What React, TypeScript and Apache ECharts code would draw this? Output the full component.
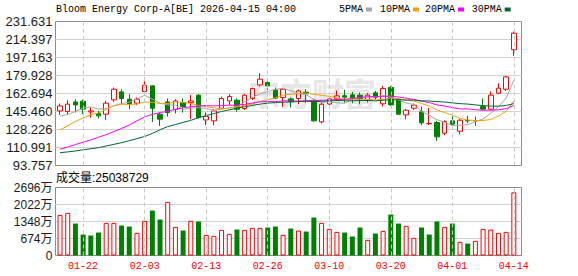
import React, { useEffect, useRef } from 'react';
import * as echarts from 'echarts';

const dates = [
  '01-16', '01-20', '01-21', '01-22', '01-23', '01-26', '01-27', '01-28', '01-29', '01-30',
  '02-02', '02-03', '02-04', '02-05', '02-06', '02-09', '02-10', '02-11', '02-12', '02-13',
  '02-17', '02-18', '02-19', '02-20', '02-23', '02-24', '02-25', '02-26', '02-27', '03-02',
  '03-03', '03-04', '03-05', '03-06', '03-09', '03-10', '03-11', '03-12', '03-13', '03-16',
  '03-17', '03-18', '03-19', '03-20', '03-23', '03-24', '03-25', '03-26', '03-27', '03-30',
  '03-31', '04-01', '04-02', '04-06', '04-07', '04-08', '04-09', '04-10', '04-13', '04-14',
];

const opens = [
  146.0, 145.5, 154.6, 155.3, 145.1, 143.5, 142.9, 156.6, 164.2, 157.2,
  153.4, 164.6, 170.0, 142.9, 154.6, 147.5, 154.1, 154.1, 161.1, 137.4,
  136.5, 148.6, 155.6, 156.3, 148.3, 157.9, 170.9, 173.2, 166.1, 158.9,
  157.5, 157.9, 164.0, 156.2, 135.5, 152.6, 157.5, 160.6, 161.4, 161.0,
  156.6, 163.3, 152.8, 168.4, 157.2, 142.2, 148.6, 145.1, 133.8, 134.9,
  124.7, 136.5, 126.6, 136.8, 136.5, 150.2, 147.7, 163.0, 166.8, 204.6,
];
const closes = [
  150.8, 152.5, 151.8, 147.7, 146.0, 141.3, 153.4, 166.8, 157.9, 152.5,
  157.2, 170.6, 148.6, 138.1, 144.5, 155.6, 150.2, 155.6, 139.7, 140.7,
  146.0, 157.9, 159.8, 147.7, 161.1, 167.5, 176.4, 170.0, 158.2, 166.8,
  155.0, 165.2, 162.3, 136.5, 152.4, 157.5, 160.4, 159.2, 158.6, 158.0,
  161.1, 158.8, 167.4, 151.8, 142.9, 146.7, 151.5, 134.6, 134.0, 121.2,
  135.8, 133.3, 137.1, 136.5, 136.8, 147.7, 161.1, 167.8, 178.6, 220.4,
];
const lows = [
  142.2, 142.9, 144.5, 142.9, 139.7, 138.8, 137.4, 154.7, 152.5, 147.7,
  151.5, 163.0, 135.5, 131.7, 140.7, 143.6, 144.5, 138.1, 138.8, 132.3,
  132.3, 147.7, 151.5, 145.1, 147.0, 156.6, 169.4, 166.0, 157.2, 149.9,
  149.3, 152.4, 153.8, 135.8, 133.9, 151.5, 155.6, 154.0, 153.4, 152.4,
  154.0, 156.8, 150.2, 150.8, 142.2, 138.1, 147.0, 132.4, 132.4, 117.3,
  122.8, 132.3, 123.7, 134.3, 131.7, 147.0, 147.0, 162.0, 165.2, 198.7,
];
const highs = [
  153.1, 156.3, 157.2, 156.6, 149.3, 146.0, 155.6, 168.4, 166.8, 162.0,
  158.9, 178.0, 170.6, 144.5, 157.9, 157.2, 157.9, 161.1, 162.0, 144.5,
  147.7, 159.8, 162.0, 157.9, 162.0, 168.4, 182.1, 174.8, 168.4, 167.5,
  158.8, 166.5, 166.8, 157.0, 154.0, 158.8, 165.5, 166.3, 164.2, 163.6,
  163.0, 165.2, 170.0, 170.0, 157.8, 147.7, 153.1, 150.2, 148.9, 136.5,
  137.1, 142.9, 138.1, 141.3, 140.6, 157.9, 164.6, 172.5, 179.6, 221.9,
];

const volumes = [
  16100000, 16900000, 12670000, 8320000, 7920000, 9110000, 12940000, 12940000, 11880000, 11480000,
  8980000, 13730000, 17820000, 14260000, 21250000, 11350000, 9900000, 13730000, 13460000, 8180000,
  7790000, 10160000, 8580000, 10300000, 10160000, 10960000, 10960000, 11090000, 11480000, 8180000,
  10690000, 9900000, 9500000, 15050000, 12940000, 10560000, 9370000, 9110000, 7520000, 11090000,
  6200000, 8710000, 9770000, 16240000, 12670000, 11750000, 7000000, 11090000, 8320000, 13460000,
  11350000, 12670000, 5410000, 4750000, 5810000, 10560000, 10300000, 8980000, 9370000, 25038729,
];

const ma5 = [
  141.0, 142.6, 145.5, 148.8, 149.76, 147.86, 148.04, 151.04, 153.08, 154.38,
  157.56, 161.0, 157.36, 153.4, 151.8, 151.48, 147.4, 148.8, 149.12, 148.36,
  146.44, 147.98, 148.82, 150.42, 154.5, 158.8, 162.5, 164.54, 166.64, 167.78,
  165.28, 163.04, 161.5, 157.16, 154.28, 154.78, 153.82, 153.2, 157.62, 158.74,
  159.46, 159.14, 160.78, 159.42, 156.4, 153.52, 152.06, 145.5, 141.94, 137.6,
  135.42, 131.78, 132.28, 132.78, 135.9, 138.28, 143.84, 149.98, 158.4, 175.12,
];
const ma10 = [
  127.8, 131.8, 136.0, 139.2, 142.5, 144.0, 147.5, 151.0, 152.5, 152.07,
  152.71, 154.52, 154.2, 153.24, 153.09, 154.52, 154.2, 153.08, 151.26, 150.08,
  148.96, 147.69, 148.81, 149.77, 151.43, 152.62, 155.24, 156.68, 158.53, 161.14,
  162.04, 162.77, 163.02, 161.9, 161.03, 160.03, 158.43, 157.35, 157.39, 156.51,
  157.12, 156.48, 156.99, 158.52, 157.57, 156.49, 155.6, 153.14, 150.68, 147.0,
  144.47, 141.92, 138.89, 137.36, 136.75, 136.85, 137.81, 141.13, 145.59, 155.51,
];
const ma20 = [
  109.3, 111.5, 113.8, 116.0, 118.3, 120.8, 123.3, 126.2, 129.3, 132.5,
  136.5, 140.3, 142.8, 144.3, 145.8, 147.5, 149.0, 150.0, 150.7, 151.08,
  150.84, 151.11, 151.51, 151.5, 152.26, 153.57, 154.72, 154.88, 154.9, 155.61,
  155.5, 155.23, 155.92, 155.84, 156.23, 156.33, 156.84, 157.02, 157.96, 158.83,
  159.58, 159.63, 160.01, 160.21, 159.3, 158.26, 157.02, 155.25, 154.04, 151.76,
  150.8, 149.2, 147.94, 147.94, 147.16, 146.67, 146.71, 147.14, 148.14, 151.26,
];
const ma30 = [
  106.0, 106.8, 107.6, 108.8, 109.8, 110.8, 112.4, 114.0, 115.6, 117.5,
  119.5, 121.5, 124.5, 128.0, 131.0, 133.0, 135.0, 137.0, 139.5, 141.5,
  143.5, 145.5, 147.0, 148.5, 150.0, 151.3, 152.5, 153.5, 154.0, 154.43,
  154.57, 154.99, 155.34, 154.97, 155.18, 155.72, 155.96, 155.7, 155.73, 155.91,
  156.04, 155.65, 156.27, 156.73, 156.68, 156.38, 156.42, 155.72, 155.53, 154.88,
  154.54, 153.72, 152.97, 152.59, 151.78, 151.12, 150.61, 150.54, 151.22, 153.01,
];

const priceTickLabels = ['93.757', '110.991', '128.226', '145.460', '162.694', '179.928', '197.163', '214.397', '231.631'];
const volumeMax = 26960000;
const volumeSteps = 4;
const xLabelDates = ['01-22', '02-03', '02-13', '02-26', '03-10', '03-20', '04-01', '04-14'];

const titleText = 'Bloom Energy Corp-A[BE] 2026-04-15 04:00';
const maNames = ['5PMA', '10PMA', '20PMA', '30PMA'];

const RED = '#ff0000';
const GREEN = '#008000';
const MA_COLORS = ['#a6a6a6', '#f2a20c', '#ff00ff', '#006633'];
const MONO = '"Liberation Mono", "DejaVu Sans Mono", monospace';
const SANS = '"Liberation Sans", Arial, "Noto Sans CJK SC", sans-serif';

export default function App() {
  const ref = useRef<HTMLDivElement>(null);

  useEffect(() => {
    if (!ref.current) return;
    const chart = echarts.init(ref.current, null, { renderer: 'svg' });

    const candleData = dates.map((_, i) => [opens[i], closes[i], lows[i], highs[i]]);
    const volData = volumes.map((v, i) => {
      const prev = i === 0 ? opens[0] : closes[i - 1];
      const up = closes[i] >= prev;
      return {
        value: v,
        itemStyle: up
          ? { color: '#ffffff', borderColor: RED, borderWidth: 1 }
          : { color: GREEN, borderColor: GREEN, borderWidth: 0 },
      };
    });

    const markLine = {
      silent: true,
      symbol: ['none', 'none'],
      label: { show: false },
      lineStyle: { type: [4, 3], color: '#c8c8c8', width: 1 },
      emphasis: { disabled: true },
      data: xLabelDates.map((d) => ({ xAxis: d })),
    };

    const priceMin = Number(priceTickLabels[0]);
    const priceMax = Number(priceTickLabels[priceTickLabels.length - 1]);

    const dataLeft = 56.2;
    const dataWidth = 461.5;
    const bgLeft = 55.5;
    const bgWidth = 466;
    const pTop = 21.5;
    const pH = 144;
    const vTop = 187.5;
    const vH = 68;

    const legendX = [339, 380, 425, 471.7];
    const legendEls: any[] = [];
    maNames.forEach((n, k) => {
      legendEls.push({
        type: 'text',
        x: legendX[k],
        y: 9.5,
        style: { text: n, font: `10px ${MONO}`, fill: '#000', verticalAlign: 'middle', align: 'left' },
      });
      legendEls.push({
        type: 'rect',
        x: legendX[k] + n.length * 6 + 3,
        y: 7.5,
        shape: { width: 6, height: 4 },
        style: { fill: MA_COLORS[k] },
      });
    });

    const option: any = {
      animation: false,
      backgroundColor: '#ffffff',
      grid: [
        { left: dataLeft, top: pTop, width: dataWidth, height: pH, show: false, outerBoundsMode: 'none', containLabel: false },
        { left: dataLeft, top: vTop, width: dataWidth, height: vH, show: false, outerBoundsMode: 'none', containLabel: false },
        { left: bgLeft, top: pTop, width: bgWidth, height: pH, show: true, borderColor: '#8c8c8c', borderWidth: 1, backgroundColor: 'transparent', outerBoundsMode: 'none', containLabel: false },
        { left: bgLeft, top: vTop, width: bgWidth, height: vH, show: true, borderColor: '#8c8c8c', borderWidth: 1, backgroundColor: 'transparent', outerBoundsMode: 'none', containLabel: false },
      ],
      xAxis: [
        {
          type: 'category', gridIndex: 0, data: dates, boundaryGap: true,
          axisLine: { show: false }, axisTick: { show: false }, axisLabel: { show: false }, splitLine: { show: false },
        },
        {
          type: 'category', gridIndex: 1, data: dates, boundaryGap: true,
          axisLine: { show: false }, axisTick: { show: false }, splitLine: { show: false },
          axisLabel: {
            show: true,
            interval: (_i: number, v: string) => xLabelDates.includes(v),
            color: RED,
            fontFamily: MONO,
            fontSize: 10,
            margin: 6,
            hideOverlap: false,
          },
        },
        { type: 'value', gridIndex: 2, min: 0, max: 1, show: false },
        { type: 'value', gridIndex: 3, min: 0, max: 1, show: false },
      ],
      yAxis: [
        { type: 'value', gridIndex: 0, min: priceMin, max: priceMax, show: false, splitLine: { show: false } },
        { type: 'value', gridIndex: 1, min: 0, max: volumeMax, show: false, splitLine: { show: false } },
        {
          type: 'value', gridIndex: 2, min: 0, max: priceTickLabels.length - 1, interval: 1,
          axisLine: { show: false }, axisTick: { show: false },
          axisLabel: {
            formatter: (v: number) => priceTickLabels[Math.round(v)] ?? '',
            color: '#1a1a1a', fontFamily: SANS, fontSize: 13, margin: 3,
          },
          splitLine: { show: true, showMinLine: false, showMaxLine: false, lineStyle: { color: '#d2d2d2', width: 1 } },
        },
        {
          type: 'value', gridIndex: 3, min: 0, max: volumeMax, interval: volumeMax / volumeSteps,
          axisLine: { show: false }, axisTick: { show: false },
          axisLabel: {
            formatter: (v: number) => (v === 0 ? '0' : `${Math.round(v / 10000)}万`),
            color: '#1a1a1a', fontFamily: SANS, fontSize: 12, margin: 3,
            rich: {},
          },
          splitLine: { show: true, showMinLine: false, showMaxLine: false, lineStyle: { color: '#d2d2d2', width: 1 } },
        },
      ],
      series: [
        {
          name: 'K', type: 'candlestick', xAxisIndex: 0, yAxisIndex: 0,
          data: candleData, barWidth: 5, z: 3,
          itemStyle: { color: '#ffffff', color0: GREEN, borderColor: RED, borderColor0: GREEN, borderWidth: 1 },
          markLine,
        },
        ...[ma5, ma10, ma20, ma30].map((d, k) => ({
          name: maNames[k], type: 'line', xAxisIndex: 0, yAxisIndex: 0, data: d,
          symbol: 'none', showSymbol: false, z: 4,
          lineStyle: { width: 1, color: MA_COLORS[k] },
          itemStyle: { color: MA_COLORS[k] },
        })),
        {
          name: 'VOL', type: 'bar', xAxisIndex: 1, yAxisIndex: 1, data: volData, barWidth: 5, z: 3,
          markLine,
        },
      ],
      graphic: [
        {
          type: 'text', x: 248, y: 92, z: -1, silent: true,
          style: { text: '东方财富', font: 'bold 32px "Noto Sans CJK SC", sans-serif', fill: '#e6e6e6', verticalAlign: 'middle' },
        },
        {
          type: 'text', x: 56, y: 9.5,
          style: { text: titleText, font: `10px ${MONO}`, fill: '#000', verticalAlign: 'middle' },
        },
        ...legendEls,
        {
          type: 'text', x: 56, y: 177.5,
          style: { text: `成交量:${volumes[volumes.length - 1]}`, font: `12px ${SANS}`, fill: '#000', verticalAlign: 'middle' },
        },
      ],
    };

    chart.setOption(option);
    return () => chart.dispose();
  }, []);

  return <div ref={ref} style={{ position: 'fixed', left: 0, top: 0, width: 578, height: 276 }} />;
}
